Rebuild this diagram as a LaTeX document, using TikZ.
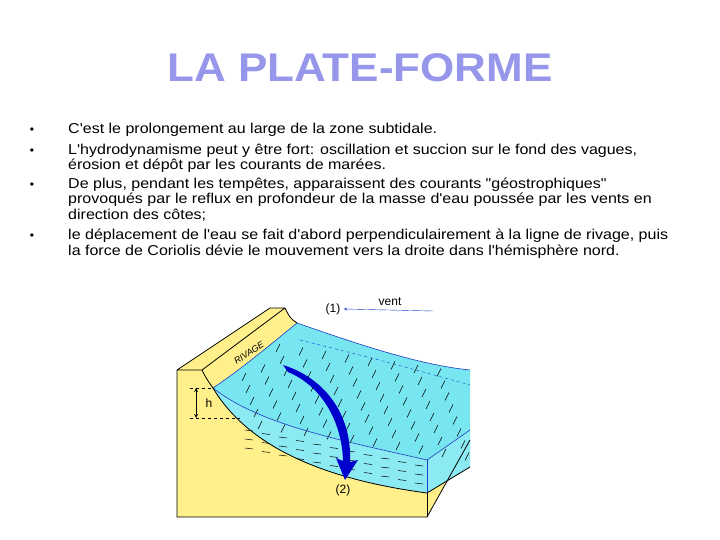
\documentclass[tikz,border=0pt]{standalone}
\usepackage{fontspec}
\setmainfont{Liberation Sans}[Ligatures=TeXOff]
\definecolor{ttl}{RGB}{150,150,235}
\definecolor{sand}{RGB}{255,240,140}
\definecolor{water}{RGB}{120,230,240}
\definecolor{wline}{RGB}{30,60,200}
\begin{document}
\begin{tikzpicture}[x=1pt,y=-1pt,
  txt/.style={anchor=base west,inner sep=0pt,xscale=1.12,font=\fontsize{14.3}{15}\selectfont},
  bul/.style={anchor=base,inner sep=0pt,font=\fontsize{12}{14}\selectfont},
  edge/.style={draw=black,line width=0.8pt,line join=round},
  wedge/.style={draw=wline,line width=0.6pt}]
\useasboundingbox[fill=white] (0,0) rectangle (720,540);
\node[font=\bfseries\fontsize{40}{44}\selectfont,text=ttl,xscale=1.1] (title) at (360,68) {LA PLATE-FORME};
\foreach \y in {134,155,189,240} \node[bul] at (32,\y) {•};
\node[txt] (l1) at (68,134) {C'est le prolongement au large de la zone subtidale.};
\node[txt] (l2) at (68,155) {L'hydrodynamisme peut y être fort: oscillation et succion sur le fond des vagues,};
\node[txt] (l3) at (68,170) {érosion et dépôt par les courants de marées.};
\node[txt] (l4) at (68,189) {De plus, pendant les tempêtes, apparaissent des courants "géostrophiques"};
\node[txt] (l5) at (68,204) {provoqués par le reflux en profondeur de la masse d'eau poussée par les vents en};
\node[txt] (l6) at (68,219) {direction des côtes;};
\node[txt] (l7) at (68,240) {le déplacement de l'eau se fait d'abord perpendiculairement à la ligne de rivage, puis};
\node[txt] (l8) at (68,255) {la force de Coriolis dévie le mouvement vers la droite dans l'hémisphère nord.};
% sand block
\fill[sand] (177,370) -- (270,308) -- (285,308) .. controls (290,318) .. (297,323)
  .. controls (360,345) and (420,365) .. (470,370) -- (470,440) -- (427,517) -- (177,517) -- cycle;
% water surface
\fill[water] (213,388) .. controls (240,370) and (270,345) .. (297,323)
  .. controls (360,345) and (420,365) .. (470,370) -- (470,430) -- (427,460)
  .. controls (340,440) and (260,425) .. (213,388) -- cycle;
% water front face
\fill[water!85!white] (213,388) .. controls (260,425) and (340,440) .. (427,460) -- (470,430) -- (470,467) -- (427,493)
  .. controls (330,480) and (250,450) .. (213,388) -- cycle;
% hatching
\foreach \i in {0,...,9} \foreach \j in {0,...,7} {
  \pgfmathsetmacro{\px}{230+\i*23+\j*4}
  \pgfmathsetmacro{\py}{345+\j*12+\i*3.5}
  \pgfmathparse{(\px<262 && \py<372) ? 0 : 1}
  \ifnum\pgfmathresult=1
    \draw[black,line width=0.5pt] (\px,\py) -- ++(4,-8);
  \fi
}
\foreach \i in {0,...,10} \foreach \j in {0,1,2} {
  \pgfmathsetmacro{\px}{245+\i*17}
  \pgfmathsetmacro{\py}{430+\j*9+\i*3.5}
  \draw[black,line width=0.5pt] (\px,\py) -- ++(8,1);
}
\draw[dashed,wline] (300,340) .. controls (380,360) .. (470,385);
% water edges
\draw[wedge] (213,388) .. controls (240,370) and (270,345) .. (297,323)
  .. controls (360,345) and (420,365) .. (470,370);
\draw[wedge] (213,388) .. controls (260,425) and (340,440) .. (427,460) -- (470,430);
\draw[wedge] (427,460) -- (427,493);
% outlines
\draw[edge] (177,370) -- (270,308) -- (285,308) -- (202,370) -- cycle;
\draw[edge] (177,370) -- (177,517) -- (427,517) -- (470,440);
\draw[edge] (202,370) .. controls (206,378) .. (213,388);
\draw[edge] (285,308) .. controls (290,318) .. (297,323);
\draw[edge] (213,388) .. controls (250,450) and (330,480) .. (427,493) -- (470,467);
\draw[edge] (427,493) -- (427,517);
% h
\draw[dashed] (190,388) -- (213,388);
\draw[dashed] (190,418) -- (240,418);
\draw[-stealth,thick] (196,403) -- (196,388);
\draw[-stealth,thick] (196,403) -- (196,418);
\node[font=\fontsize{12}{14}\selectfont] (h) at (209,403) {h};
\node[font=\itshape\fontsize{9}{10}\selectfont,rotate=33,inner sep=0pt] (riv) at (249,353) {RIVAGE};
% current arrow
\fill[blue!80!black] (283,365) .. controls (330,380) and (352,420) .. (350,462) -- (358,460) -- (345,480)
  -- (336,458) -- (343,461) .. controls (342,420) and (320,385) .. (288,372) -- cycle;
% wind
\node[font=\fontsize{12}{14}\selectfont] (vent) at (390,302) {vent};
\node[font=\fontsize{12}{14}\selectfont] (n1) at (333,309) {(1)};
\coordinate (w0) at (433,311);
\draw[-stealth,wline] (w0) -- (n1.east);
\node[font=\fontsize{12}{14}\selectfont] (n2) at (343,490) {(2)};
\end{tikzpicture}
\end{document}
